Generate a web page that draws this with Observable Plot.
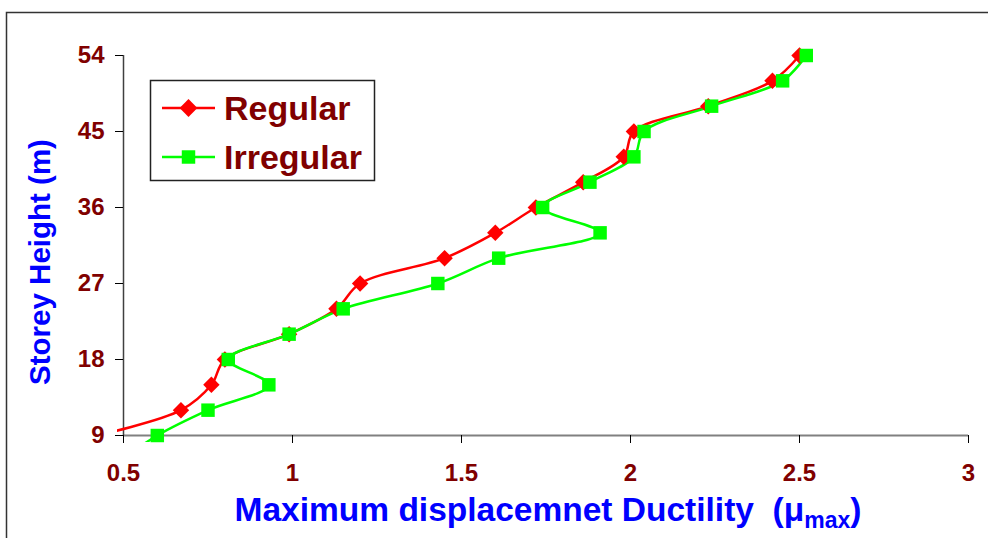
<!DOCTYPE html>
<html>
<head>
<meta charset="utf-8">
<script src="https://cdn.jsdelivr.net/npm/d3@7"></script>
<script src="https://cdn.jsdelivr.net/npm/@observablehq/plot@0.6"></script>
<style>
  html, body { margin: 0; padding: 0; background: #fff; }
  svg { display: block; }
</style>
</head>
<body>
<div id="chart"></div>
<script>
// ---- data ----
const xTicks = [0.5, 1, 1.5, 2, 2.5, 3];
const yTicks = [9, 18, 27, 36, 45, 54];

const regularHeight    = [9, 12, 15, 18, 21, 24, 27, 30, 33, 36, 39, 42, 45, 48, 51, 54];
const regularDuctility = [0.42, 0.67, 0.76, 0.80, 0.99, 1.13, 1.20, 1.45, 1.60, 1.72, 1.86, 1.98, 2.01, 2.23, 2.42, 2.50];

const irregularHeight    = [6, 9, 12, 15, 18, 21, 24, 27, 30, 33, 36, 39, 42, 45, 48, 51, 54];
const irregularDuctility = [0.49, 0.60, 0.75, 0.93, 0.81, 0.99, 1.15, 1.43, 1.61, 1.91, 1.74, 1.88, 2.01, 2.04, 2.24, 2.45, 2.52];

const seriesNames = ["Regular", "Irregular"];
const seriesColors = ["#FF0000", "#00FF00"];

const regular = regularHeight.map((h, i) => ({h, d: regularDuctility[i]}));
const irregular = irregularHeight.map((h, i) => ({h, d: irregularDuctility[i]}));
const inView = p => p.h >= 9 && p.d >= 0.5;

const FONT = "'Liberation Sans', Arial, Helvetica, sans-serif";
const DARKRED = "#800000";
const R_DIAMOND = 7.4, R_SQUARE = 7.6;

const plot = Plot.plot({
  width: 988,
  height: 538,
  marginLeft: 123,
  marginRight: 20,
  marginTop: 55,
  marginBottom: 103,
  style: {fontFamily: FONT, background: "#fff", overflow: "visible"},
  x: {domain: [0.5, 3]},
  y: {domain: [9, 54]},
  marks: [
    Plot.ruleY([9], {stroke: "#808080", strokeWidth: 2}),
    Plot.ruleX([0.5], {stroke: "#404040", strokeWidth: 1.5}),
    Plot.axisX({ticks: xTicks, tickFormat: d => String(d), tickSize: 8, tickPadding: 20,
      stroke: "#000", fill: DARKRED, fontSize: 24, fontWeight: "bold", label: null}),
    Plot.axisY({ticks: yTicks, tickFormat: d => String(d), tickSize: 8, tickPadding: 11,
      stroke: "#000", fill: DARKRED, fontSize: 24, fontWeight: "bold", label: null}),
    Plot.line(regular, {x: "d", y: "h", curve: "catmull-rom", stroke: seriesColors[0], strokeWidth: 2.5}),
    Plot.line(irregular, {x: "d", y: "h", curve: "catmull-rom", stroke: seriesColors[1], strokeWidth: 2.5}),
    Plot.dot(regular.filter(inView), {x: "d", y: "h", symbol: "diamond2", r: R_DIAMOND, fill: seriesColors[0], stroke: "none"}),
    Plot.dot(irregular.filter(inView), {x: "d", y: "h", symbol: "square", r: R_SQUARE, fill: seriesColors[1], stroke: "none"})
  ]
});

document.getElementById("chart").appendChild(plot);

// ---- post-processing: clipping, frame, titles, legend ----
const svg = d3.select(plot);
const sx = plot.scale("x"), sy = plot.scale("y");
const xr = (sx && sx.range) ? sx.range : [123, 968];
const yr = (sy && sy.range) ? sy.range : [435, 55];
const X = d3.scaleLinear([0.5, 3], xr);
const Y = d3.scaleLinear([9, 54], yr);

const ns = "http://www.w3.org/2000/svg";
const defs = document.createElementNS(ns, "defs");
const cp = document.createElementNS(ns, "clipPath");
cp.setAttribute("id", "plotclip");
cp.setAttribute("clipPathUnits", "userSpaceOnUse");
const cr = document.createElementNS(ns, "rect");
cr.setAttribute("x", X(0.5) - 6);
cr.setAttribute("y", 0);
cr.setAttribute("width", X(3) - X(0.5) + 12);
cr.setAttribute("height", Y(9) + 7);
cp.appendChild(cr);
defs.appendChild(cp);
plot.insertBefore(defs, plot.firstChild);

// wrap the series lines in a clipped group
const lineGroups = Array.from(plot.querySelectorAll('g[aria-label="line"]'));
if (lineGroups.length) {
  const wrap = document.createElementNS(ns, "g");
  wrap.setAttribute("clip-path", "url(#plotclip)");
  lineGroups[0].parentNode.insertBefore(wrap, lineGroups[0]);
  lineGroups.forEach(g => wrap.appendChild(g));
}

// outer chart-area frame
const frame = document.createElementNS(ns, "rect");
frame.setAttribute("x", 6.5); frame.setAttribute("y", 12.5);
frame.setAttribute("width", 1000); frame.setAttribute("height", 600);
frame.setAttribute("fill", "none"); frame.setAttribute("stroke", "#333"); frame.setAttribute("stroke-width", 1.5);
plot.insertBefore(frame, defs.nextSibling);

// y-axis title
svg.append("text")
  .attr("transform", `translate(50,262) rotate(-90)`)
  .attr("text-anchor", "middle")
  .attr("font-family", FONT).attr("font-weight", "bold").attr("font-size", 29.5)
  .attr("fill", "#0000FF")
  .text("Storey Height (m)");

// x-axis title with subscript
const xt = svg.append("text")
  .attr("x", 548).attr("y", 521)
  .attr("text-anchor", "middle")
  .attr("font-family", FONT).attr("font-weight", "bold").attr("font-size", 33.5)
  .attr("fill", "#0000FF")
  .style("white-space", "pre");
xt.append("tspan").text("Maximum displacemnet Ductility  (\u03BC");
xt.append("tspan").attr("font-size", 23).attr("dy", 7).text("max");
xt.append("tspan").attr("dy", -7).text(")");

// legend
const lg = svg.append("g");
lg.append("rect").attr("x", 150.5).attr("y", 80.5).attr("width", 224).attr("height", 100)
  .attr("fill", "#fff").attr("stroke", "#222").attr("stroke-width", 1.5);
const legendRows = [108, 157];
const legendSymbols = [d3.symbolDiamond2, d3.symbolSquare];
const legendSizes = [Math.PI * 8 * 8, Math.PI * 7.6 * 7.6];
seriesNames.forEach((name, i) => {
  const yy = legendRows[i];
  lg.append("line").attr("x1", 162).attr("x2", 215).attr("y1", yy).attr("y2", yy)
    .attr("stroke", seriesColors[i]).attr("stroke-width", 2.5);
  lg.append("path").attr("transform", `translate(188.5,${yy})`)
    .attr("d", d3.symbol(legendSymbols[i], legendSizes[i])())
    .attr("fill", seriesColors[i]);
  lg.append("text").attr("x", 224).attr("y", yy + 12)
    .attr("text-anchor", "start")
    .attr("font-family", FONT).attr("font-weight", "bold").attr("font-size", 34)
    .attr("fill", DARKRED).text(name);
});
</script>
</body>
</html>
